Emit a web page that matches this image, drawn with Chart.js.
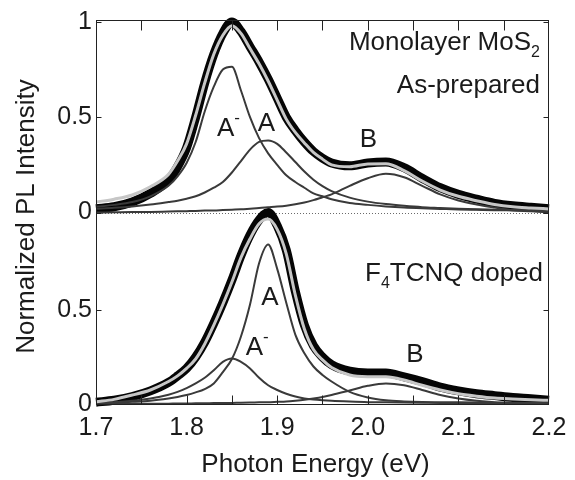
<!DOCTYPE html>
<html>
<head>
<meta charset="utf-8">
<script src="https://cdn.jsdelivr.net/npm/chart.js@4.4.1/dist/chart.umd.min.js"></script>
<style>
  html, body { margin: 0; padding: 0; background: #ffffff; }
  #wrap { width: 575px; height: 480px; }
</style>
</head>
<body>
<div id="wrap"><canvas id="pl" width="575" height="480"></canvas></div>
<script>
// Photon energy grid (eV) shared by every spectrum
const energy = [1.70, 1.72, 1.74, 1.76, 1.78, 1.79, 1.80, 1.81, 1.82, 1.83, 1.84, 1.85,
  1.86, 1.87, 1.88, 1.89, 1.90, 1.91, 1.92, 1.93, 1.94, 1.95, 1.96, 1.98, 2.00, 2.02,
  2.04, 2.06, 2.08, 2.10, 2.12, 2.14, 2.16, 2.18, 2.20];

// As-prepared monolayer MoS2: measured PL, total fit and its three components
const asPreparedMeasured = [0.02, 0.03, 0.055, 0.10, 0.17, 0.24, 0.34, 0.50, 0.68, 0.83, 0.94, 1.00,
  0.95, 0.87, 0.79, 0.70, 0.60, 0.50, 0.43, 0.37, 0.32, 0.285, 0.26, 0.245, 0.26, 0.265,
  0.235, 0.18, 0.13, 0.095, 0.07, 0.048, 0.035, 0.027, 0.02];
const asPreparedFit = [0.055, 0.07, 0.092, 0.135, 0.20, 0.27, 0.36, 0.51, 0.68, 0.83, 0.93, 0.98,
  0.94, 0.86, 0.78, 0.69, 0.59, 0.49, 0.42, 0.365, 0.315, 0.28, 0.25, 0.24, 0.255, 0.256,
  0.22, 0.165, 0.118, 0.085, 0.062, 0.042, 0.03, 0.024, 0.019];
const asPreparedTrion = [0.03, 0.04, 0.055, 0.085, 0.14, 0.19, 0.26, 0.37, 0.53, 0.66, 0.75, 0.765,
  0.64, 0.50, 0.39, 0.31, 0.25, 0.195, 0.16, 0.13, 0.10, 0.085, 0.07, 0.05, 0.04, 0.032,
  0.026, 0.022, 0.019, 0.016, 0.014, 0.012, 0.011, 0.01, 0.009];
const asPreparedExcitonA = [0.02, 0.025, 0.032, 0.042, 0.055, 0.062, 0.072, 0.085, 0.105, 0.13, 0.16, 0.21,
  0.27, 0.33, 0.37, 0.378, 0.36, 0.315, 0.265, 0.215, 0.172, 0.138, 0.112, 0.078, 0.057, 0.044,
  0.035, 0.028, 0.024, 0.02, 0.017, 0.015, 0.013, 0.012, 0.011];
const asPreparedExcitonB = [0, 0.001, 0.002, 0.003, 0.005, 0.006, 0.007, 0.008, 0.01, 0.011, 0.013, 0.015,
  0.017, 0.02, 0.023, 0.027, 0.031, 0.036, 0.043, 0.052, 0.065, 0.08, 0.095, 0.14, 0.18, 0.203,
  0.185, 0.14, 0.095, 0.063, 0.042, 0.026, 0.012, 0.006, 0.003];

// F4TCNQ-doped monolayer MoS2
const dopedMeasured = [0.01, 0.02, 0.04, 0.07, 0.115, 0.15, 0.19, 0.25, 0.33, 0.43, 0.54, 0.66,
  0.79, 0.90, 0.98, 1.02, 0.95, 0.82, 0.60, 0.42, 0.31, 0.25, 0.21, 0.175, 0.165, 0.165,
  0.145, 0.12, 0.09, 0.07, 0.055, 0.045, 0.035, 0.028, 0.02];
const dopedFit = [0.012, 0.025, 0.048, 0.075, 0.12, 0.15, 0.19, 0.24, 0.32, 0.42, 0.53, 0.65,
  0.78, 0.88, 0.96, 0.985, 0.93, 0.80, 0.58, 0.40, 0.29, 0.235, 0.195, 0.155, 0.146, 0.145,
  0.128, 0.10, 0.075, 0.055, 0.042, 0.032, 0.027, 0.023, 0.02];
const dopedTrion = [0.005, 0.01, 0.018, 0.03, 0.05, 0.065, 0.085, 0.11, 0.14, 0.18, 0.225, 0.243,
  0.225, 0.19, 0.14, 0.10, 0.075, 0.055, 0.04, 0.03, 0.024, 0.02, 0.017, 0.013, 0.01, 0.009,
  0.008, 0.007, 0.006, 0.006, 0.005, 0.005, 0.005, 0.005, 0.005];
const dopedExcitonA = [0.005, 0.008, 0.012, 0.018, 0.03, 0.038, 0.048, 0.062, 0.08, 0.11, 0.17, 0.24,
  0.36, 0.53, 0.75, 0.85, 0.72, 0.54, 0.37, 0.27, 0.20, 0.155, 0.12, 0.065, 0.035, 0.02,
  0.014, 0.011, 0.01, 0.009, 0.008, 0.007, 0.007, 0.006, 0.006];
const dopedExcitonB = [0, 0.001, 0.001, 0.002, 0.002, 0.003, 0.003, 0.004, 0.004, 0.005, 0.005, 0.006,
  0.007, 0.008, 0.009, 0.01, 0.012, 0.014, 0.018, 0.023, 0.03, 0.038, 0.048, 0.072, 0.097, 0.11,
  0.10, 0.075, 0.048, 0.03, 0.018, 0.01, 0.006, 0.003, 0.002];

// Axis ticks
const energyTickLabels = [1.7, 1.8, 1.9, 2.0, 2.1, 2.2];
const energyTickMarks = [1.75, 1.8, 1.85, 1.9, 1.95, 2.0, 2.05, 2.1, 2.15];
const upperIntensityTicks = [0, 0.5, 1];
const lowerIntensityTicks = [0, 0.5];

const FONT = '"Liberation Sans", Arial, Helvetica, sans-serif';
const INK = '#1b1b1b';

const pts = arr => energy.map((e, i) => ({ x: e, y: arr[i] }));

function line(arr, axis, color, width) {
  return {
    data: pts(arr), yAxisID: axis, xAxisID: 'x',
    borderColor: color, borderWidth: width, pointRadius: 0,
    cubicInterpolationMode: 'monotone', fill: false, clip: 6
  };
}

// Fits first so they sit on top, measured bands last so they sit underneath
const datasets = [
  line(asPreparedFit, 'yTop', '#c6c6c6', 3),
  line(dopedFit, 'yBot', '#c6c6c6', 3),
  line(asPreparedTrion, 'yTop', '#3a3a3a', 2),
  line(asPreparedExcitonA, 'yTop', '#3a3a3a', 2),
  line(asPreparedExcitonB, 'yTop', '#3a3a3a', 2),
  line(dopedTrion, 'yBot', '#3a3a3a', 2),
  line(dopedExcitonA, 'yBot', '#3a3a3a', 2),
  line(dopedExcitonB, 'yBot', '#3a3a3a', 2),
  line(asPreparedMeasured, 'yTop', '#050505', 9),
  line(dopedMeasured, 'yBot', '#050505', 9)
];

// Draws a run of text pieces [text, size, dy] on one baseline
function drawRun(ctx, parts, x, y, align) {
  let w = 0;
  parts.forEach(p => { ctx.font = p[1] + 'px ' + FONT; w += ctx.measureText(p[0]).width; });
  let cx = align === 'right' ? x - w : align === 'center' ? x - w / 2 : x;
  ctx.textAlign = 'left';
  ctx.textBaseline = 'alphabetic';
  parts.forEach(p => {
    ctx.font = p[1] + 'px ' + FONT;
    ctx.fillText(p[0], cx, y + p[2]);
    cx += ctx.measureText(p[0]).width;
  });
}

const annotations = [
  { axis: 'yTop', e: 2.19, v: 0.85, align: 'right', parts: [['Monolayer MoS', 26, 0], ['2', 16, 7]] },
  { axis: 'yTop', e: 2.19, v: 0.626, align: 'right', parts: [['As-prepared', 26, 0]] },
  { axis: 'yTop', e: 1.8462, v: 0.40, align: 'center', parts: [['A', 26, 0], ['-', 17, -13]] },
  { axis: 'yTop', e: 1.888, v: 0.43, align: 'center', parts: [['A', 26, 0]] },
  { axis: 'yTop', e: 2.0008, v: 0.342, align: 'center', parts: [['B', 26, 0]] },
  { axis: 'yBot', e: 2.1934, v: 0.654, align: 'right', parts: [['F', 26, 0], ['4', 16, 7], ['TCNQ doped', 26, 0]] },
  { axis: 'yBot', e: 1.892, v: 0.527, align: 'center', parts: [['A', 26, 0]] },
  { axis: 'yBot', e: 1.878, v: 0.26, align: 'center', parts: [['A', 26, 0], ['-', 17, -13]] },
  { axis: 'yBot', e: 2.052, v: 0.223, align: 'center', parts: [['B', 26, 0]] }
];

const framePlugin = {
  id: 'frame',
  beforeDatasetsDraw(chart) {
    const { ctx, chartArea: a, scales } = chart;
    const y0 = Math.round(scales.yTop.getPixelForValue(0)) + 0.5;
    ctx.save();
    ctx.strokeStyle = '#6a6a6a';
    ctx.lineWidth = 1;
    ctx.setLineDash([1, 2]);
    ctx.beginPath();
    ctx.moveTo(a.left, y0);
    ctx.lineTo(a.right, y0);
    ctx.stroke();
    ctx.restore();
  },
  afterDatasetsDraw(chart) {
    const { ctx, chartArea: a, scales } = chart;
    ctx.save();
    ctx.strokeStyle = '#222';
    ctx.lineWidth = 1;
    const L = Math.round(a.left) + 0.5, R = Math.round(a.right) - 0.5;
    const T = Math.round(a.top) + 0.5, B = Math.round(a.bottom) - 0.5;
    ctx.strokeRect(L, T, R - L, B - T);
    ctx.beginPath();
    energyTickMarks.forEach(e => {
      const x = Math.round(scales.x.getPixelForValue(e)) + 0.5;
      ctx.moveTo(x, B); ctx.lineTo(x, B - 9);
      ctx.moveTo(x, T); ctx.lineTo(x, T + 10);
    });
    [[scales.yTop, upperIntensityTicks], [scales.yBot, lowerIntensityTicks]].forEach(([s, ticks]) => {
      ticks.forEach(v => {
        const y = Math.round(s.getPixelForValue(v)) + 0.5;
        ctx.moveTo(L, y); ctx.lineTo(L + 5, y);
        ctx.moveTo(R, y); ctx.lineTo(R - 5, y);
      });
    });
    ctx.stroke();

    ctx.fillStyle = INK;
    annotations.forEach(n => {
      drawRun(ctx, n.parts, scales.x.getPixelForValue(n.e), scales[n.axis].getPixelForValue(n.v), n.align);
    });

    // axis titles
    ctx.font = '26px ' + FONT;
    ctx.textAlign = 'center';
    ctx.textBaseline = 'alphabetic';
    ctx.fillText('Photon Energy (eV)', (a.left + a.right) / 2 - 7, a.bottom + 67);
    ctx.translate(a.left - 62, (a.top + a.bottom) / 2 + 4);
    ctx.rotate(-Math.PI / 2);
    ctx.fillText('Normalized PL Intensity', 0, 0);
    ctx.restore();
  }
};

const tickFont = { family: FONT, size: 25 };

function intensityAxis(ticks, min, max) {
  return {
    type: 'linear', position: 'left', stack: 'panels', stackWeight: 1,
    min: min, max: max,
    grid: { display: false, drawTicks: false },
    border: { display: false },
    afterBuildTicks: s => { s.ticks = ticks.map(v => ({ value: v })); },
    afterFit: s => { s.width = 96; },
    ticks: { font: tickFont, color: INK, padding: 4, callback: v => String(v) }
  };
}

new Chart(document.getElementById('pl'), {
  type: 'line',
  data: { datasets },
  options: {
    responsive: false,
    animation: false,
    devicePixelRatio: 1,
    layout: { padding: { left: 0, right: 26, top: 20, bottom: 0 } },
    plugins: { legend: { display: false }, tooltip: { enabled: false } },
    scales: {
      x: {
        type: 'linear', position: 'bottom', min: 1.7, max: 2.2,
        grid: { display: false, drawTicks: false },
        border: { display: false },
        afterBuildTicks: s => { s.ticks = energyTickLabels.map(v => ({ value: v })); },
        afterFit: s => { s.height = 75; },
        ticks: { font: tickFont, color: INK, padding: 8, maxRotation: 0, autoSkip: false,
                 callback: v => Number(v).toFixed(1) }
      },
      // stacked panels are laid out bottom-up in declaration order
      yBot: intensityAxis(lowerIntensityTicks, -0.005, 1.02),
      yTop: intensityAxis(upperIntensityTicks, 0, 1.01)
    }
  },
  plugins: [framePlugin]
});
</script>
</body>
</html>
